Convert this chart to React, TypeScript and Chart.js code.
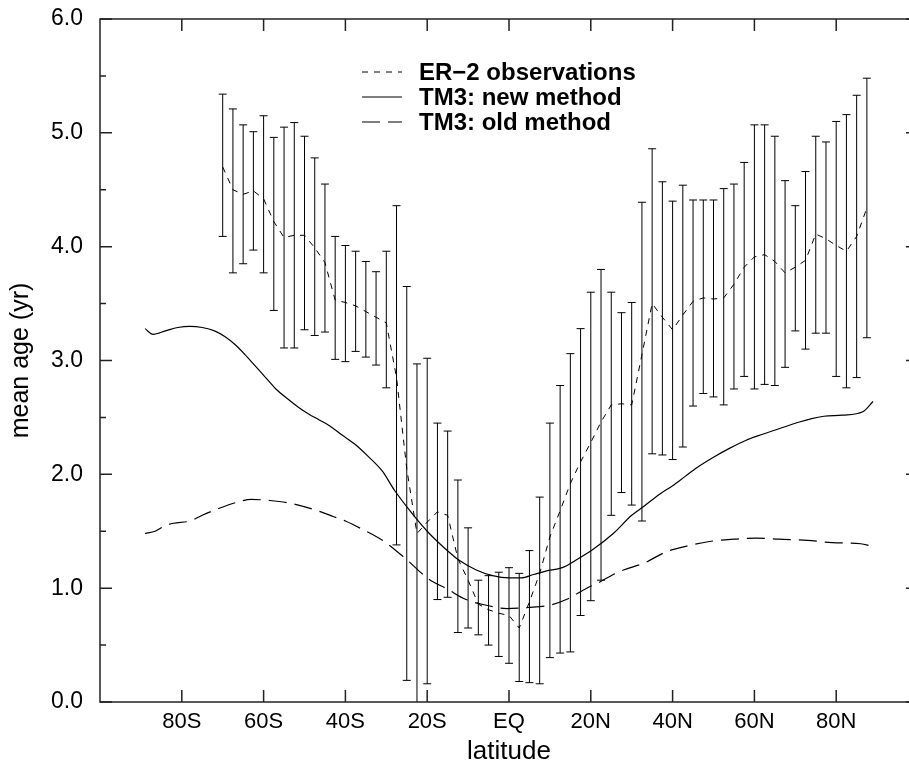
import React, { useEffect, useRef } from "react";
import { Chart, registerables } from "chart.js";

Chart.register(...registerables);

// ---------- data ----------
const obsLat = [
  -70, -67.5, -65, -62.5, -60, -57.5, -55, -52.5, -50, -47.5, -45, -42.5, -40, -37.5, -35, -32.5,
  -30, -27.5, -25, -22.5, -20, -17.5, -15, -12.5, -10, -7.5, -5, -2.5, 0, 2.5, 5, 7.5,
  10, 12.5, 15, 17.5, 20, 22.5, 25, 27.5, 30, 32.5, 35, 37.5, 40, 42.5, 45, 47.5,
  50, 52.5, 55, 57.5, 60, 62.5, 65, 67.5, 70, 72.5, 75, 77.5, 80, 82.5, 85, 87.5,
];
const obsMean = [
  4.70, 4.50, 4.46, 4.49, 4.42, 4.22, 4.08, 4.10, 4.10, 3.99, 3.86, 3.53, 3.51, 3.48, 3.43, 3.38,
  3.33, 2.85, 2.05, 1.48, 1.58, 1.67, 1.64, 1.26, 1.07, 0.86, 0.81, 0.78, 0.76, 0.65, 0.88, 1.13,
  1.45, 1.68, 1.92, 2.11, 2.28, 2.46, 2.61, 2.62, 2.61, 3.05, 3.50, 3.38, 3.27, 3.40, 3.52, 3.55,
  3.54, 3.55, 3.67, 3.82, 3.91, 3.93, 3.87, 3.77, 3.82, 3.88, 4.11, 4.07, 4.01, 3.96, 4.09, 4.34,
];
const obsHigh = [
  5.34, 5.21, 5.07, 5.01, 5.15, 4.96, 5.05, 5.09, 4.97, 4.78, 4.55, 4.09, 4.01, 3.96, 3.87, 3.78,
  3.96, 4.36, 3.65, 2.97, 3.02, 2.45, 2.38, 1.95, 1.53, 1.07, 1.11, 1.14, 1.18, 1.13, 1.33, 1.80,
  2.45, 2.78, 3.06, 3.28, 3.60, 3.80, 3.60, 3.42, 3.51, 4.39, 4.86, 4.57, 4.40, 4.54, 4.41, 4.41,
  4.41, 4.51, 4.55, 4.74, 5.07, 5.07, 4.97, 4.58, 4.36, 4.66, 4.97, 4.92, 5.10, 5.16, 5.33, 5.48,
];
const obsLow = [
  4.09, 3.77, 3.85, 3.97, 3.77, 3.44, 3.11, 3.11, 3.27, 3.22, 3.25, 3.01, 2.99, 3.08, 3.03, 2.96,
  2.76, 1.38, 0.19, -0.10, 0.16, 0.90, 0.92, 0.61, 0.65, 0.59, 0.50, 0.40, 0.34, 0.18, 0.17, 0.16,
  0.39, 0.43, 0.44, 0.76, 0.89, 1.07, 1.64, 1.84, 1.73, 1.59, 2.18, 2.17, 2.13, 2.24, 2.60, 2.71,
  2.68, 2.61, 2.75, 2.86, 2.75, 2.79, 2.78, 2.94, 3.26, 3.10, 3.24, 3.24, 2.86, 2.76, 2.85, 3.20,
];

const newLat = [
  -89, -87, -84, -81, -78, -75, -72, -69.5, -67, -64.5, -62, -59.5, -57, -54, -51.5, -49, -46.5,
  -44, -41, -37.5, -34.5, -31, -28, -24, -20, -16, -12, -8, -4, 0, 3, 6, 9, 13, 16.5, 20.5,
  25.5, 30, 33, 37, 40, 43, 46, 50, 54, 58, 61, 66, 71, 74, 77, 81.5, 86.5, 89,
];
const newAge = [
  3.28, 3.23, 3.26, 3.29, 3.30, 3.29, 3.26, 3.21, 3.14, 3.05, 2.95, 2.85, 2.75, 2.66, 2.59, 2.53, 2.48,
  2.43, 2.35, 2.26, 2.16, 2.03, 1.86, 1.67, 1.50, 1.36, 1.24, 1.16, 1.11, 1.09, 1.09, 1.12, 1.15, 1.18, 1.25, 1.34,
  1.48, 1.64, 1.72, 1.83, 1.90, 1.98, 2.06, 2.15, 2.23, 2.30, 2.34, 2.40, 2.46, 2.49, 2.51, 2.52, 2.55, 2.64,
];

const oldLat = [
  -89, -86.5, -84, -82, -78, -75, -71, -66, -63, -58.5, -54, -51.5, -46, -43, -40, -36, -30.5,
  -25, -20, -15, -10.5, -5.5, -0.5, 4.5, 10, 14, 19, 22, 25.5, 28, 33, 38.5, 43.5, 49, 55, 60.5,
  66, 73, 79, 86, 88.5,
];
const oldAge = [
  1.48, 1.50, 1.55, 1.57, 1.59, 1.64, 1.70, 1.76, 1.78, 1.77, 1.75, 1.73, 1.67, 1.63, 1.59, 1.52, 1.41,
  1.25, 1.09, 0.99, 0.90, 0.85, 0.82, 0.83, 0.85, 0.90, 1.00, 1.05, 1.12, 1.16, 1.22, 1.32, 1.37, 1.41, 1.43, 1.44,
  1.43, 1.42, 1.40, 1.39, 1.37,
];

const seriesLabels = ["ER\u22122 observations", "TM3: new method", "TM3: old method"];
const xMajorTicks = [-80, -60, -40, -20, 0, 20, 40, 60, 80];
const yMajorTicks = [0, 1, 2, 3, 4, 5, 6];
const yMinorTicks = [0.5, 1.5, 2.5, 3.5, 4.5, 5.5];

const FONT = "'Liberation Sans', Arial, Helvetica, sans-serif";

function latLabel(v: number): string {
  if (v <= -100 || v >= 100) return "";
  if (v === 0) return "EQ";
  return v < 0 ? `${-v}S` : `${v}N`;
}

const framePlugin = {
  id: "frameAndBars",
  afterDatasetsDraw(chart: any) {
    const { ctx, chartArea: a, scales } = chart;
    const xs = scales.x;
    const ys = scales.y;

    // error bars
    ctx.save();
    ctx.beginPath();
    ctx.rect(a.left, a.top, a.right - a.left, a.bottom - a.top);
    ctx.clip();
    ctx.strokeStyle = "#000";
    ctx.lineWidth = 1;
    ctx.setLineDash([]);
    obsLat.forEach((lat, i) => {
      const x = xs.getPixelForValue(lat);
      const y1 = ys.getPixelForValue(obsLow[i]);
      const y2 = ys.getPixelForValue(obsHigh[i]);
      ctx.beginPath();
      ctx.moveTo(x, y1);
      ctx.lineTo(x, y2);
      ctx.moveTo(x - 4, y1);
      ctx.lineTo(x + 4, y1);
      ctx.moveTo(x - 4, y2);
      ctx.lineTo(x + 4, y2);
      ctx.stroke();
    });
    ctx.restore();

    // frame + inward ticks
    ctx.save();
    ctx.strokeStyle = "#222";
    ctx.lineWidth = 1.5;
    ctx.setLineDash([]);
    ctx.strokeRect(a.left, a.top, a.right - a.left, a.bottom - a.top);
    ctx.beginPath();
    xMajorTicks.forEach((v) => {
      const x = xs.getPixelForValue(v);
      ctx.moveTo(x, a.bottom);
      ctx.lineTo(x, a.bottom - 12);
      ctx.moveTo(x, a.top);
      ctx.lineTo(x, a.top + 12);
    });
    yMajorTicks.forEach((v) => {
      const y = ys.getPixelForValue(v);
      ctx.moveTo(a.left, y);
      ctx.lineTo(a.left + 12, y);
      ctx.moveTo(a.right, y);
      ctx.lineTo(a.right - 12, y);
    });
    yMinorTicks.forEach((v) => {
      const y = ys.getPixelForValue(v);
      ctx.moveTo(a.left, y);
      ctx.lineTo(a.left + 6, y);
      ctx.moveTo(a.right, y);
      ctx.lineTo(a.right - 6, y);
    });
    ctx.stroke();
    ctx.restore();

    // legend
    ctx.save();
    const lx0 = 362;
    const lx1 = 402;
    const tx = 419;
    const rowY = [72, 97, 122];
    ctx.font = `bold 24px ${FONT}`;
    ctx.textBaseline = "middle";
    ctx.textAlign = "left";
    chart.data.datasets.forEach((ds: any, i: number) => {
      const y = rowY[i];
      ctx.strokeStyle = ds.borderColor;
      ctx.lineWidth = ds.borderWidth;
      ctx.setLineDash(ds.borderDash || []);
      ctx.beginPath();
      ctx.moveTo(lx0, y);
      ctx.lineTo(lx1, y);
      ctx.stroke();
      ctx.setLineDash([]);
      ctx.fillStyle = "#000";
      ctx.fillText(ds.label, tx, y + 1);
    });
    ctx.restore();
  },
};

export default function App() {
  const ref = useRef<HTMLCanvasElement | null>(null);

  useEffect(() => {
    if (!ref.current) return;
    const chart = new Chart(ref.current, {
      type: "line",
      data: {
        datasets: [
          {
            label: seriesLabels[0],
            data: obsLat.map((x, i) => ({ x, y: obsMean[i] })),
            borderColor: "#000",
            borderWidth: 1,
            borderDash: [6, 6],
            pointRadius: 0,
            fill: false,
            tension: 0,
          },
          {
            label: seriesLabels[1],
            data: newLat.map((x, i) => ({ x, y: newAge[i] })),
            borderColor: "#000",
            borderWidth: 1.2,
            borderDash: [],
            pointRadius: 0,
            fill: false,
            cubicInterpolationMode: "monotone",
          },
          {
            label: seriesLabels[2],
            data: oldLat.map((x, i) => ({ x, y: oldAge[i] })),
            borderColor: "#000",
            borderWidth: 1.2,
            borderDash: [18, 8],
            pointRadius: 0,
            fill: false,
            cubicInterpolationMode: "monotone",
          },
        ],
      },
      options: {
        responsive: false,
        maintainAspectRatio: false,
        devicePixelRatio: 1,
        animation: false,
        layout: { padding: { top: 19, right: 12, left: 0, bottom: 0 } },
        plugins: {
          legend: { display: false },
          tooltip: { enabled: false },
          title: { display: false },
        },
        scales: {
          x: {
            type: "linear",
            min: -100,
            max: 100,
            grid: { display: false, drawTicks: false },
            border: { display: false },
            ticks: {
              stepSize: 20,
              autoSkip: false,
              maxRotation: 0,
              padding: 7,
              color: "#000",
              font: { size: 22, family: FONT },
              callback: (v: any) => latLabel(Number(v)),
            },
            title: {
              display: true,
              text: "latitude",
              color: "#000",
              font: { size: 26, family: FONT },
              padding: 0,
            },
            afterFit: (s: any) => {
              s.height = 65;
              s.paddingLeft = 0;
              s.paddingRight = 0;
            },
          },
          y: {
            min: 0,
            max: 6,
            grid: { display: false, drawTicks: false },
            border: { display: false },
            ticks: {
              stepSize: 1,
              autoSkip: false,
              padding: 17,
              color: "#000",
              font: { size: 23, family: FONT },
              callback: (v: any) => Number(v).toFixed(1),
            },
            title: {
              display: true,
              text: "mean age (yr)",
              color: "#000",
              font: { size: 25, family: FONT },
              padding: { top: 6, bottom: 0 },
            },
            afterFit: (s: any) => {
              s.width = 100;
              s.paddingTop = 0;
              s.paddingBottom = 0;
            },
          },
        },
      },
      plugins: [framePlugin],
    } as any);
    return () => chart.destroy();
  }, []);

  return (
    <div
      style={{
        position: "absolute",
        left: 0,
        top: 0,
        width: 909,
        height: 767,
        overflow: "hidden",
        background: "#fff",
      }}
    >
      <canvas ref={ref} width={930} height={767} style={{ display: "block", width: 930, height: 767 }} />
    </div>
  );
}
